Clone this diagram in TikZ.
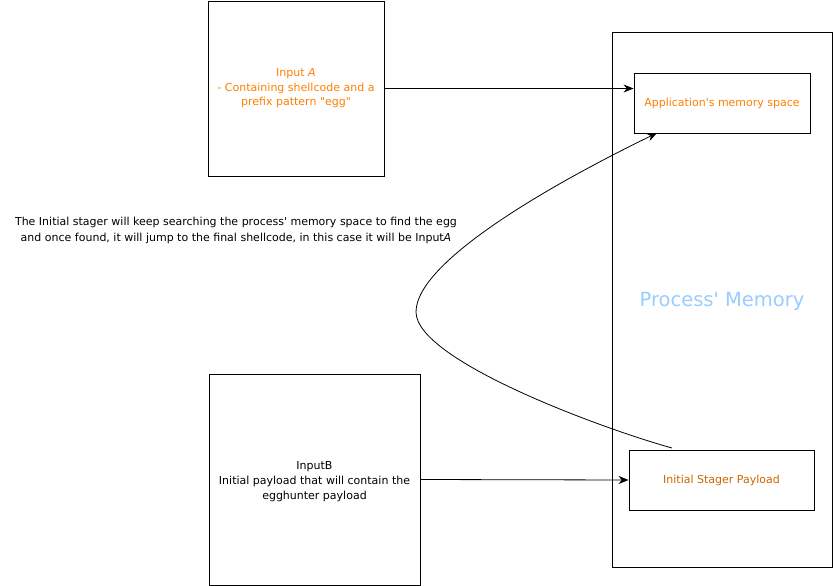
\documentclass[tikz,border=0pt]{standalone}
\usepackage{fontspec}
\setmainfont{DejaVu Sans}[Ligatures=TeXOff]
\usetikzlibrary{arrows.meta}
\definecolor{orangeA}{HTML}{FF8000}
\definecolor{orangeB}{HTML}{CC6600}
\definecolor{lblue}{HTML}{99CCFF}
\tikzset{
  box/.style={draw=black, line width=0.9pt, inner sep=0pt, align=center},
  conn/.style={draw=black, line width=0.8pt, -{Stealth[length=10pt,width=8pt]}},
  txt/.style={font=\fontsize{11}{16}\selectfont, align=center}
}
\begin{document}
\begin{tikzpicture}[x=1pt,y=-1pt]
\useasboundingbox (0,0) rectangle (833,586);
\node[box, minimum width=176pt, minimum height=175pt, text=orangeA, font=\fontsize{11}{14.5}\selectfont] (inA) at (296,88.5) {Input \textit{A}\\- Containing shellcode and a\\prefix pattern "egg"};
\node[box, minimum width=211pt, minimum height=211pt] (inB) at (314.5,479.5) {};
\node[font=\fontsize{11}{15}\selectfont, align=center] (inBtext) at (314.5,481.5) {InputB\\Initial payload that will contain the\\egghunter payload};
\node[box, minimum width=220pt, minimum height=535pt] (proc) at (722,299.5) {};
\node[text=lblue, font=\fontsize{19.5}{21}\selectfont] (plabel) at (722,301) {Process' Memory};
\node[box, minimum width=176pt, minimum height=60pt, text=orangeA, font=\fontsize{11}{13}\selectfont] (app) at (722,103) {Application's memory space};
\node[box, minimum width=185pt, minimum height=60pt, text=orangeB, font=\fontsize{11}{13}\selectfont] (stager) at (721.5,480) {Initial Stager Payload};
\node[txt] (desc) at (236,230.5) {The Initial stager will keep searching the process' memory space to find the egg\\and once found, it will jump to the final shellcode, in this case it will be Input\textit{A}};
\coordinate (cstart) at (672,448);
\coordinate (ctip) at (416,312);
\coordinate (cend) at (657,133);
\draw[conn] (inA.east) -- (inA.east -| app.west);
\draw[conn] (inB.east) -- (stager.west);
\draw[conn] (cstart) .. controls (600,428) and (416,360) .. (ctip) .. controls (416,260) and (560,180) .. (cend);
\end{tikzpicture}
\end{document}
